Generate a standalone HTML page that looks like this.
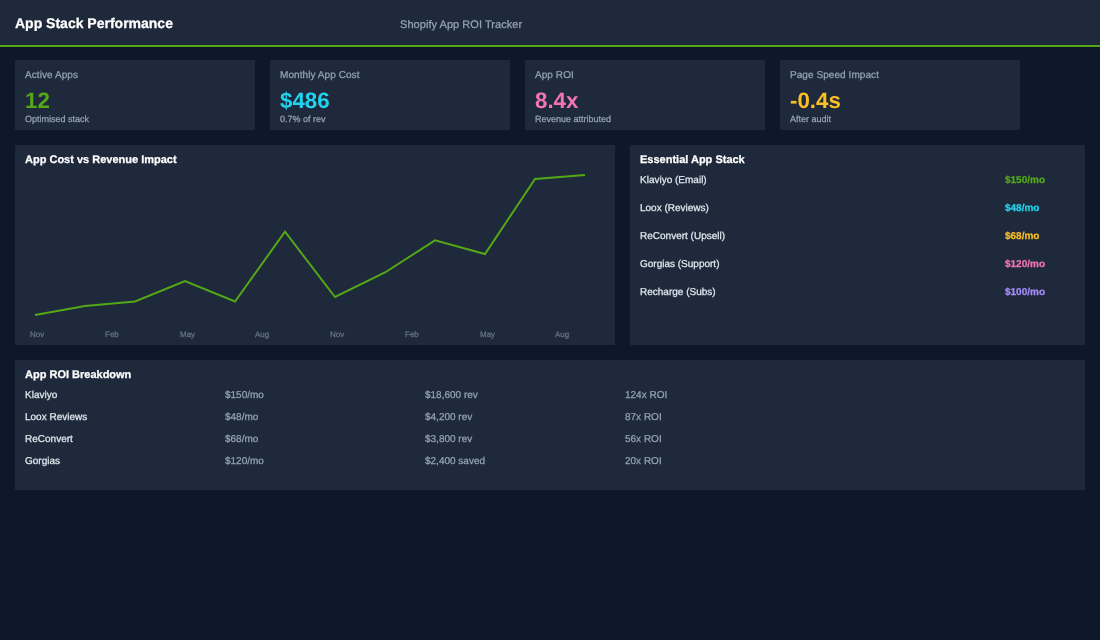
<!DOCTYPE html>
<html><head><meta charset="utf-8">
<style>
*{box-sizing:border-box;margin:0;padding:0}
html,body{width:1100px;height:640px;overflow:hidden;background:#0f172a;font-family:"Liberation Sans",sans-serif;color:#fff;text-rendering:geometricPrecision;-webkit-text-stroke:0.25px currentColor}
.card .v{-webkit-text-stroke:0}
.hdr{position:absolute;left:0;top:0;width:1100px;height:47px;background:#1e293b;border-bottom:2px solid #54a816}
.hdr .t{position:absolute;left:15px;top:14px;font-size:14px;font-weight:bold;color:#fff;line-height:18px}
.hdr .s{position:absolute;left:400px;top:18px;font-size:11px;letter-spacing:.05px;color:#94a3b8;line-height:14px}
.card{position:absolute;top:60px;width:240px;height:70px;background:#1e293b}
.card .l{position:absolute;left:10px;top:9px;font-size:10px;letter-spacing:.07px;color:#94a3b8;line-height:13px}
.card .v{position:absolute;left:10px;top:28px;font-size:22.3px;font-weight:bold;line-height:26px}
.card .d{position:absolute;left:10px;top:54px;font-size:9px;color:#94a3b8;line-height:11px}
.panel{position:absolute;background:#1e293b}
.hdr,.card,.panel{will-change:transform}
.pt{position:absolute;left:10px;top:9px;font-size:11px;font-weight:bold;color:#fff;line-height:13px}
.row{position:absolute;left:10px;margin-top:1px;font-size:10px;line-height:12px;color:#e2e8f0}
.ax{position:absolute;top:185px;font-size:8px;color:#64748b;line-height:10px}
</style></head><body>
<div class="hdr"><div class="t">App Stack Performance</div><div class="s">Shopify App ROI Tracker</div></div>

<div class="card" style="left:15px"><div class="l">Active Apps</div><div class="v" style="color:#54a816">12</div><div class="d">Optimised stack</div></div>
<div class="card" style="left:270px"><div class="l">Monthly App Cost</div><div class="v" style="color:#22d3ee">$486</div><div class="d">0.7% of rev</div></div>
<div class="card" style="left:525px"><div class="l">App ROI</div><div class="v" style="color:#f472b6">8.4x</div><div class="d">Revenue attributed</div></div>
<div class="card" style="left:780px"><div class="l">Page Speed Impact</div><div class="v" style="color:#fbbf24">-0.4s</div><div class="d">After audit</div></div>

<div class="panel" style="left:15px;top:145px;width:600px;height:200px">
<div class="pt">App Cost vs Revenue Impact</div>
<svg width="600" height="200" style="position:absolute;left:0;top:0"><polyline fill="none" stroke="#54a816" stroke-width="2" stroke-linejoin="miter" points="20,170 70,161 120,156.5 170,136 220,156.5 270,86.6 320,152 370,127.5 420,95.4 470,109 520,34 570,30"/></svg>
<div class="ax" style="left:15px">Nov</div><div class="ax" style="left:90px">Feb</div><div class="ax" style="left:165px">May</div><div class="ax" style="left:240px">Aug</div>
<div class="ax" style="left:315px">Nov</div><div class="ax" style="left:390px">Feb</div><div class="ax" style="left:465px">May</div><div class="ax" style="left:540px">Aug</div>
</div>

<div class="panel" style="left:630px;top:145px;width:455px;height:200px">
<div class="pt">Essential App Stack</div>
<div class="row" style="top:29px">Klaviyo (Email)</div><div class="row" style="top:29px;left:375px;color:#54a816;font-weight:bold">$150/mo</div>
<div class="row" style="top:57px">Loox (Reviews)</div><div class="row" style="top:57px;left:375px;color:#22d3ee;font-weight:bold">$48/mo</div>
<div class="row" style="top:85px">ReConvert (Upsell)</div><div class="row" style="top:85px;left:375px;color:#fbbf24;font-weight:bold">$68/mo</div>
<div class="row" style="top:113px">Gorgias (Support)</div><div class="row" style="top:113px;left:375px;color:#f472b6;font-weight:bold">$120/mo</div>
<div class="row" style="top:141px">Recharge (Subs)</div><div class="row" style="top:141px;left:375px;color:#a78bfa;font-weight:bold">$100/mo</div>
</div>

<div class="panel" style="left:15px;top:360px;width:1070px;height:130px">
<div class="pt">App ROI Breakdown</div>
<div class="row" style="top:29px">Klaviyo</div><div class="row" style="top:29px;left:210px;color:#94a3b8">$150/mo</div><div class="row" style="top:29px;left:410px;color:#94a3b8">$18,600 rev</div><div class="row" style="top:29px;left:610px;color:#94a3b8">124x ROI</div>
<div class="row" style="top:51px">Loox Reviews</div><div class="row" style="top:51px;left:210px;color:#94a3b8">$48/mo</div><div class="row" style="top:51px;left:410px;color:#94a3b8">$4,200 rev</div><div class="row" style="top:51px;left:610px;color:#94a3b8">87x ROI</div>
<div class="row" style="top:73px">ReConvert</div><div class="row" style="top:73px;left:210px;color:#94a3b8">$68/mo</div><div class="row" style="top:73px;left:410px;color:#94a3b8">$3,800 rev</div><div class="row" style="top:73px;left:610px;color:#94a3b8">56x ROI</div>
<div class="row" style="top:95px">Gorgias</div><div class="row" style="top:95px;left:210px;color:#94a3b8">$120/mo</div><div class="row" style="top:95px;left:410px;color:#94a3b8">$2,400 saved</div><div class="row" style="top:95px;left:610px;color:#94a3b8">20x ROI</div>
</div>
</body></html>
